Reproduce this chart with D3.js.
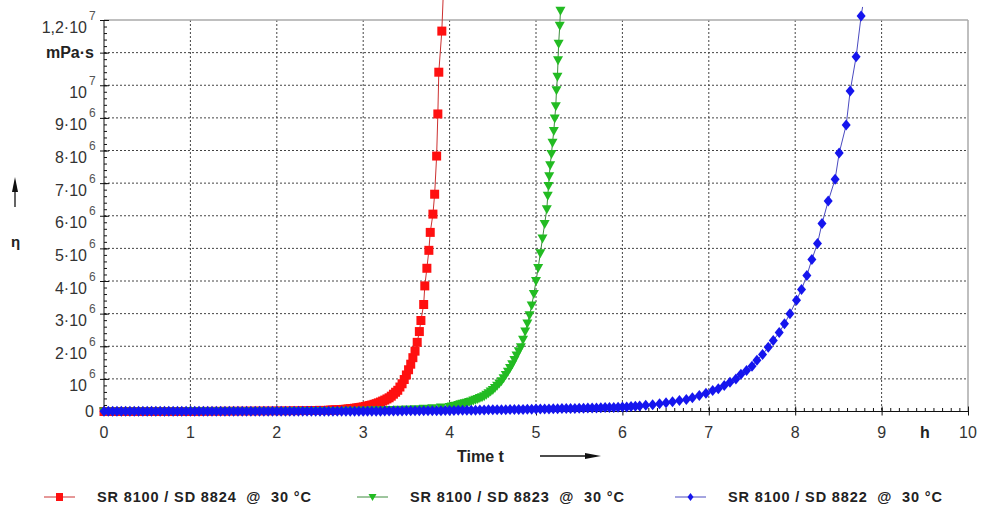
<!DOCTYPE html>
<html>
<head>
<meta charset="utf-8">
<script src="https://d3js.org/d3.v7.min.js"></script>
<style>
  body { margin: 0; background: #fff; }
  svg { font-family: "Liberation Sans", Arial, sans-serif; }
  .grid line { stroke: #444; stroke-width: 1; stroke-dasharray: 2,2; }
  .ax path { display: none; }
  .ax line { stroke: #111; stroke-width: 1; }
  .ylab { font-size: 16px; fill: #333; }
  .xlab { font-size: 16px; fill: #333; }
  .bold { font-weight: bold; fill: #222; }
</style>
</head>
<body>
<script>
// viscosity η in 10^6 mPa·s, time t in h

// SR 8100 / SD 8824
var redTime = [
  0, 0.1, 0.2, 0.3, 0.4, 0.5, 0.6, 0.7, 0.8, 0.9, 1.0, 1.1, 1.2, 1.3, 1.4, 1.5, 1.6, 1.7, 1.8, 1.9,
  2.0, 2.1, 2.2, 2.3, 2.4, 2.5,
  2.6, 2.625, 2.65, 2.675, 2.7, 2.725, 2.75, 2.775, 2.8, 2.825, 2.85, 2.875, 2.9, 2.925, 2.95, 2.975,
  3.0, 3.025, 3.05, 3.075, 3.1, 3.125, 3.15, 3.175, 3.2, 3.225, 3.25, 3.275, 3.3, 3.325, 3.35, 3.375,
  3.4, 3.425, 3.45, 3.475, 3.5, 3.525, 3.55, 3.575, 3.6, 3.625, 3.65,
  3.668, 3.70, 3.713, 3.737, 3.76, 3.776, 3.807, 3.827, 3.85, 3.864, 3.875, 3.91, 3.93
];
var redEta = [
  0, 0, 0, 0, 0, 0, 0, 0, 0, 0, 0, 0.002, 0.004, 0.006, 0.008, 0.01, 0.012, 0.014, 0.016, 0.018,
  0.02, 0.022, 0.025, 0.028, 0.031, 0.035,
  0.04, 0.042, 0.045, 0.048, 0.05, 0.055, 0.06, 0.065, 0.07, 0.077, 0.085, 0.092, 0.1, 0.11, 0.12, 0.13,
  0.14, 0.155, 0.17, 0.185, 0.2, 0.22, 0.24, 0.265, 0.29, 0.32, 0.35, 0.385, 0.42, 0.47, 0.53, 0.59,
  0.65, 0.75, 0.85, 0.98, 1.12, 1.28, 1.45, 1.65, 1.85, 2.12, 2.45,
  2.79, 3.28, 3.85, 4.39, 4.94, 5.49, 6.05, 6.66, 7.83, 9.12, 10.4, 11.66, 13.0
];

// SR 8100 / SD 8823
var greenTime = [
  0, 0.1, 0.2, 0.3, 0.4, 0.5, 0.6, 0.7, 0.8, 0.9, 1.0, 1.1, 1.2, 1.3, 1.4, 1.5, 1.6, 1.7, 1.8, 1.9,
  2.0, 2.1, 2.2, 2.3, 2.4, 2.5, 2.6, 2.7, 2.8, 2.9, 3.0, 3.1, 3.2, 3.3, 3.4, 3.5, 3.6, 3.7, 3.8, 3.9,
  4.0, 4.025, 4.05, 4.075, 4.1, 4.125, 4.15, 4.175, 4.2, 4.225, 4.25, 4.275, 4.3, 4.325, 4.35, 4.375,
  4.4, 4.425, 4.45, 4.475, 4.5, 4.525, 4.55, 4.575, 4.6, 4.625, 4.65, 4.675, 4.7, 4.725, 4.75, 4.775,
  4.8, 4.825, 4.85, 4.875, 4.9, 4.925, 4.95, 4.975, 5.0, 5.025, 5.05, 5.075, 5.1, 5.125,
  5.136, 5.145, 5.153, 5.164, 5.179, 5.191, 5.206, 5.217, 5.229, 5.237, 5.248, 5.255, 5.262, 5.275, 5.283
];
var greenEta = [
  0, 0, 0, 0, 0, 0.002, 0.002, 0.002, 0.002, 0.002, 0.004, 0.004, 0.004, 0.004, 0.004, 0.006, 0.006, 0.006, 0.008, 0.008,
  0.01, 0.01, 0.012, 0.012, 0.014, 0.015, 0.017, 0.019, 0.021, 0.023, 0.03, 0.035, 0.04, 0.046, 0.053, 0.062, 0.072, 0.085, 0.1, 0.12,
  0.14, 0.15, 0.17, 0.18, 0.2, 0.22, 0.24, 0.255, 0.27, 0.29, 0.31, 0.335, 0.36, 0.385, 0.41, 0.44,
  0.47, 0.51, 0.56, 0.61, 0.66, 0.72, 0.79, 0.86, 0.93, 1.02, 1.12, 1.22, 1.33, 1.45, 1.58, 1.72,
  1.85, 1.97, 2.2, 2.45, 2.7, 2.95, 3.25, 3.6, 4.0, 4.4, 4.85, 5.3, 5.75, 6.2,
  6.61, 6.91, 7.21, 7.55, 7.89, 8.24, 8.60, 8.98, 9.36, 9.85, 10.26, 10.77, 11.27, 11.82, 12.28
];

// SR 8100 / SD 8822
var blueTime = [
  0, 0.05, 0.1, 0.15, 0.2, 0.25, 0.3, 0.35, 0.4, 0.45, 0.5, 0.55, 0.6, 0.65, 0.7, 0.75, 0.8, 0.85, 0.9, 0.95,
  1.0, 1.05, 1.1, 1.15, 1.2, 1.25, 1.3, 1.35, 1.4, 1.45, 1.5, 1.55, 1.6, 1.65, 1.7, 1.75, 1.8, 1.85, 1.9, 1.95,
  2.0, 2.05, 2.1, 2.15, 2.2, 2.25, 2.3, 2.35, 2.4, 2.45, 2.5, 2.55, 2.6, 2.65, 2.7, 2.75, 2.8, 2.85, 2.9, 2.95,
  3.0, 3.05, 3.1, 3.15, 3.2, 3.25, 3.3, 3.35, 3.4, 3.45, 3.5, 3.55, 3.6, 3.65, 3.7, 3.75, 3.8, 3.85, 3.9, 3.95,
  4.0, 4.05, 4.1, 4.15, 4.2, 4.25, 4.3, 4.35, 4.4, 4.45, 4.5, 4.55, 4.6, 4.65, 4.7, 4.75, 4.8, 4.85, 4.9, 4.95,
  5.0, 5.05, 5.1, 5.15, 5.2, 5.25, 5.3, 5.35, 5.4, 5.45, 5.5, 5.55, 5.6, 5.65, 5.7, 5.75, 5.8, 5.85, 5.9, 5.95,
  6.0, 6.05, 6.1, 6.15,
  6.20, 6.27, 6.35, 6.43, 6.505, 6.58, 6.66, 6.74, 6.81, 6.89, 6.967, 7.045, 7.11, 7.179, 7.245, 7.314,
  7.372, 7.437, 7.50, 7.557, 7.622, 7.688, 7.746, 7.815, 7.876, 7.939, 8.015, 8.073, 8.135, 8.193, 8.258,
  8.31, 8.382, 8.462, 8.509, 8.59, 8.636, 8.705, 8.763, 8.78
];
var blueEta = [
  0.01, 0.01, 0.01, 0.01, 0.01, 0.01, 0.01, 0.01, 0.01, 0.01, 0.01, 0.01, 0.01, 0.01, 0.01, 0.01, 0.01, 0.01, 0.01, 0.01,
  0.01, 0.01, 0.01, 0.01, 0.01, 0.01, 0.01, 0.01, 0.01, 0.01, 0.01, 0.01, 0.01, 0.01, 0.01, 0.01, 0.01, 0.01, 0.01, 0.01,
  0.01, 0.01, 0.01, 0.01, 0.01, 0.01, 0.01, 0.01, 0.01, 0.01, 0.01, 0.01, 0.01, 0.01, 0.01, 0.01, 0.01, 0.01, 0.01, 0.01,
  0.01, 0.01, 0.01, 0.01, 0.01, 0.015, 0.015, 0.015, 0.015, 0.015, 0.02, 0.02, 0.02, 0.02, 0.02, 0.025, 0.025, 0.025, 0.025, 0.03,
  0.03, 0.03, 0.035, 0.035, 0.04, 0.04, 0.04, 0.045, 0.045, 0.05, 0.05, 0.05, 0.055, 0.055, 0.06, 0.06, 0.065, 0.065, 0.07, 0.07,
  0.075, 0.075, 0.08, 0.08, 0.085, 0.085, 0.09, 0.09, 0.095, 0.095, 0.1, 0.1, 0.105, 0.11, 0.11, 0.115, 0.12, 0.12, 0.125, 0.13,
  0.135, 0.14, 0.15, 0.16,
  0.17, 0.19, 0.21, 0.24, 0.27, 0.30, 0.34, 0.37, 0.42, 0.49, 0.56, 0.64, 0.70, 0.80, 0.90, 1.00,
  1.14, 1.26, 1.39, 1.57, 1.75, 1.97, 2.18, 2.42, 2.69, 3.00, 3.41, 3.74, 4.17, 4.66, 5.15,
  5.76, 6.45, 7.12, 7.92, 8.78, 9.82, 10.87, 12.12, 12.4
];

var seriesNames = ["SR 8100 / SD 8824  @  30 °C", "SR 8100 / SD 8823  @  30 °C", "SR 8100 / SD 8822  @  30 °C"];
var seriesFill = ["#ff1010", "#22bb22", "#1515ee"];
var seriesLine = ["#cc3030", "#3c8c3c", "#4a4ac0"];

var xTicks = [0, 1, 2, 3, 4, 5, 6, 7, 8, 9, 10];
var yTicks = [0, 1, 2, 3, 4, 5, 6, 7, 8, 9, 10, 11, 12];
var yTickMain = ["0", "10", "2·10", "3·10", "4·10", "5·10", "6·10", "7·10", "8·10", "9·10", "10", "mPa·s", "1,2·10"];
var yTickExp = ["", "6", "6", "6", "6", "6", "6", "6", "6", "6", "7", "", "7"];

var width = 981, height = 513;

var svg = d3.select("body").append("svg")
  .attr("width", width)
  .attr("height", height);

var x = d3.scaleLinear().domain([0, 10]).range([104, 968]);
var y = d3.scaleLinear().domain([0, 12]).range([411.5, 20]);

// grid
var grid = svg.append("g").attr("class", "grid");
grid.selectAll(".v").data(xTicks.slice(1, 10)).enter().append("line")
  .attr("x1", function (d) { return x(d); }).attr("x2", function (d) { return x(d); })
  .attr("y1", y(12)).attr("y2", y(0));
grid.selectAll(".h").data(yTicks.slice(1, 12)).enter().append("line")
  .attr("x1", x(0)).attr("x2", x(10))
  .attr("y1", function (d) { return y(d); }).attr("y2", function (d) { return y(d); });

// frame top / right
svg.append("line").attr("x1", x(0)).attr("x2", x(10)).attr("y1", y(12)).attr("y2", y(12))
  .attr("stroke", "#aaa").attr("stroke-width", 1.5);
svg.append("line").attr("x1", x(10)).attr("x2", x(10)).attr("y1", y(12)).attr("y2", y(0))
  .attr("stroke", "#aaa").attr("stroke-width", 1.5);

// axes: minor and major ticks
svg.append("g").attr("class", "ax").attr("transform", "translate(" + x(0) + ",0)")
  .call(d3.axisLeft(y).tickValues(d3.range(0, 12.001, 0.2)).tickSize(-3).tickFormat(""));
svg.append("g").attr("class", "ax").attr("transform", "translate(" + x(0) + ",0)")
  .call(d3.axisLeft(y).tickValues(yTicks).tickSize(4).tickFormat(""))
  .selectAll(".tick line").attr("x1", 5);
svg.append("g").attr("class", "ax").attr("transform", "translate(0," + y(0) + ")")
  .call(d3.axisBottom(x).tickValues(d3.range(0, 10.001, 0.1)).tickSize(-3.5).tickFormat(""));
svg.append("g").attr("class", "ax").attr("transform", "translate(0," + y(0) + ")")
  .call(d3.axisBottom(x).tickValues(xTicks).tickSize(4).tickFormat(""))
  .selectAll(".tick line").attr("y1", -5);

svg.append("line").attr("x1", x(0)).attr("x2", x(0)).attr("y1", y(12)).attr("y2", y(0)).attr("stroke", "#111");
svg.append("line").attr("x1", x(0)).attr("x2", x(10)).attr("y1", y(0)).attr("y2", y(0)).attr("stroke", "#111");

// y tick labels with exponents
yTicks.forEach(function (v, i) {
  var ty = y(v);
  if (yTickExp[i] === "") {
    svg.append("text")
      .attr("class", i === 11 ? "ylab bold" : "ylab")
      .attr("x", 94).attr("y", ty + 5.5)
      .attr("text-anchor", "end")
      .style("font-size", "16px")
      .text(yTickMain[i]);
  } else {
    svg.append("text").attr("class", "ylab")
      .attr("x", 87).attr("y", ty + 12.5)
      .attr("text-anchor", "end")
      .text(yTickMain[i]);
    svg.append("text").attr("class", "ylab")
      .attr("x", 89).attr("y", ty - 0.5)
      .style("font-size", "12px")
      .style("fill", "#555")
      .text(yTickExp[i]);
  }
});

// x tick labels
svg.selectAll(".xt").data(xTicks).enter().append("text")
  .attr("class", "xlab")
  .attr("x", function (d) { return x(d); })
  .attr("y", 437.5)
  .attr("text-anchor", "middle")
  .text(function (d) { return d; });
svg.append("text").attr("class", "xlab bold").attr("x", x(9.5)).attr("y", 437.5)
  .attr("text-anchor", "middle").text("h");

// axis titles
svg.append("text").attr("class", "xlab bold").attr("x", 457).attr("y", 461.5).text("Time t");
svg.append("line").attr("x1", 540).attr("x2", 590).attr("y1", 456).attr("y2", 456).attr("stroke", "#111").attr("stroke-width", 1.3);
svg.append("path").attr("d", "M585,453L601,456L585,459Z").attr("fill", "#111");

svg.append("text").attr("class", "bold").attr("x", 11).attr("y", 247).style("font-size", "15px").text("η");
svg.append("line").attr("x1", 15).attr("x2", 15).attr("y1", 207).attr("y2", 188).attr("stroke", "#111").attr("stroke-width", 1.3);
svg.append("path").attr("d", "M12,192L15,177L18,192Z").attr("fill", "#111");

// marker shapes
var shapes = [
  "M-4.5,-4.5h9v9h-9z",
  "M-5,-4L5,-4L0,5Z",
  "M0,-5.5L4.5,0L0,5.5L-4.5,0Z"
];
var legendShapes = [
  "M-3.5,-4h7v8h-7z",
  "M-4,-3L4,-3L0,4Z",
  "M0,-4L3,0L0,4L-3,0Z"
];

var allTimes = [redTime, greenTime, blueTime];
var allEta = [redEta, greenEta, blueEta];

var line = d3.line()
  .x(function (d) { return x(d[0]); })
  .y(function (d) { return y(d[1]); });

allTimes.forEach(function (times, s) {
  var pts = times.map(function (t, i) { return [t, allEta[s][i]]; });
  var g = svg.append("g");
  g.append("path").datum(pts)
    .attr("d", line)
    .attr("fill", "none")
    .attr("stroke", seriesLine[s])
    .attr("stroke-width", 1);
  // last blue point only continues the line above the frame
  var marks = s === 2 ? pts.slice(0, pts.length - 1) : pts;
  g.selectAll(".m").data(marks).enter().append("path")
    .attr("d", shapes[s])
    .attr("transform", function (d) { return "translate(" + x(d[0]) + "," + y(d[1]) + ")"; })
    .attr("fill", seriesFill[s]);
});

// legend
var legendX = [44, 357, 675];
seriesNames.forEach(function (name, s) {
  var lx = legendX[s];
  svg.append("line").attr("x1", lx).attr("x2", lx + 31).attr("y1", 497).attr("y2", 497)
    .attr("stroke", seriesLine[s]).attr("stroke-width", 1);
  svg.append("path").attr("d", legendShapes[s])
    .attr("transform", "translate(" + (lx + 15.5) + ",497)")
    .attr("fill", seriesFill[s]);
  svg.append("text").attr("class", "bold")
    .attr("x", lx + 53).attr("y", 502)
    .style("font-size", "14.5px")
    .style("white-space", "pre")
    .attr("textLength", 214)
    .attr("lengthAdjust", "spacing")
    .text(name);
});
</script>
</body>
</html>
